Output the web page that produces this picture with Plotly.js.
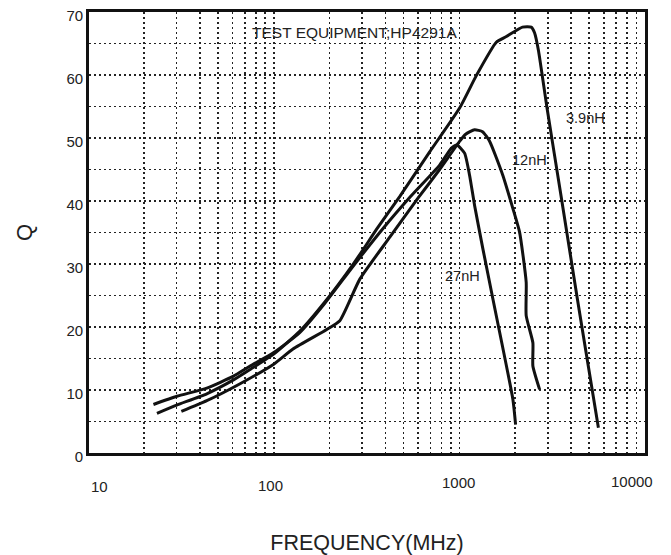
<!DOCTYPE html>
<html>
<head>
<meta charset="utf-8">
<script src="https://cdn.plot.ly/plotly-3.0.1.min.js"></script>
<style>html,body{margin:0;padding:0;background:#fff;}#chart{width:671px;height:555px;}</style>
</head>
<body>
<div id="chart"></div>
<script>
// ---- Data ----
const freq39 = [23.5, 30, 43.6, 60.7, 75, 100, 138, 189, 267, 364, 477, 692, 1005, 1234, 1581, 1791, 2188, 2438, 2541, 2667, 2965, 3548, 4325, 5297, 5610];
const q39    = [6.3, 7.6, 9.4, 11.6, 13.3, 15.7, 19.3, 24.0, 29.9, 35.8, 40.7, 47.8, 54.8, 59.9, 65.2, 66.1, 67.6, 67.6, 66.7, 63.9, 54.8, 40.4, 24.4, 8.5, 4.0];

const freq12 = [31.8, 43.6, 65.9, 100, 127, 193, 227, 291, 423, 604, 783, 1005, 1081, 1208, 1333, 1455, 1714, 1943, 2109, 2291, 2291, 2489, 2489, 2704];
const q12    = [6.6, 8.3, 11.0, 14.1, 16.5, 19.6, 21.0, 27.6, 34.3, 40.6, 45.0, 49.5, 50.6, 51.3, 51.0, 49.5, 44.1, 38.8, 35.1, 27.1, 21.8, 17.5, 13.8, 10.1];

const freq27 = [22.5, 30.1, 43.6, 60.7, 74.6, 99.6, 138, 189, 267, 392, 534, 783, 906, 970, 1067, 1135, 1208, 1339, 1517, 1943, 2009];
const q27    = [7.7, 9.0, 10.3, 12.2, 13.8, 15.9, 19.1, 23.8, 29.6, 35.8, 40.4, 45.7, 48.4, 48.9, 47.6, 44.1, 39.3, 32.4, 24.4, 8.5, 4.5];

const seriesNames = ['3.9nH', '12nH', '27nH'];
const labelFreq = [4775, 2388, 1042];
const labelQ = [53.2, 46.5, 28.1];

const xGridVals = [20,30,40,50,60,70,80,90,100,200,300,400,500,600,700,800,900,1000,2000,3000,4000,5000,6000,7000,8000,9000];
const xTickLabels = ['10', '100', '1000', '10000'];
const yGridVals = [0,5,10,15,20,25,30,35,40,45,50,55,60,65,70];
const yTickLabels = ['0','','10','','20','','30','','40','','50','','60','','70'];

const noteText = 'TEST EQUIPMENT;HP4291A';
const noteFreq = 273.5, noteQ = 66.8;

// ---- Presentation ----
const FONT = 'Liberation Sans, Arial, sans-serif';
const lineStyle = {color: '#111', width: 3, shape: 'spline', smoothing: 0.5};
const xLabelPos = [[0.018, -0.077], [0.327, -0.073], [0.664, -0.068], [0.977, -0.065]];

const traces = [
  {x: freq39, y: q39, name: seriesNames[0]},
  {x: freq12, y: q12, name: seriesNames[1]},
  {x: freq27, y: q27, name: seriesNames[2]}
].map(t => Object.assign(t, {type: 'scatter', mode: 'lines', line: lineStyle, hoverinfo: 'x+y+name'}));

const annotations = [];
seriesNames.forEach((n, i) => annotations.push({
  x: Math.log10(labelFreq[i]), y: labelQ[i], xref: 'x', yref: 'y', text: n,
  showarrow: false, font: {family: FONT, size: 14.5, color: '#222'}
}));
annotations.push({
  x: Math.log10(noteFreq), y: noteQ, xref: 'x', yref: 'y', text: noteText,
  showarrow: false, font: {family: FONT, size: 15.5, color: '#222'}
});
xTickLabels.forEach((t, i) => annotations.push({
  x: xLabelPos[i][0], y: xLabelPos[i][1], xref: 'paper', yref: 'paper', text: t,
  showarrow: false, xanchor: 'center', yanchor: 'middle',
  font: {family: FONT, size: 15, color: '#222'}
}));

const layout = {
  width: 671, height: 555,
  margin: {l: 89, r: 26, t: 12, b: 102},
  paper_bgcolor: '#fff', plot_bgcolor: '#fff',
  showlegend: false,
  font: {family: FONT, color: '#222'},
  xaxis: {
    type: 'log', range: [1.005, 4.0],
    tickmode: 'array', tickvals: xGridVals, showticklabels: false, ticks: '',
    showgrid: true, gridcolor: '#222', gridwidth: 1.6, griddash: '2px,3px',
    showline: true, linecolor: '#111', linewidth: 2.8, mirror: true,
    zeroline: false,
    title: {text: 'FREQUENCY(MHz)', font: {family: FONT, size: 21.5, color: '#222'}, standoff: 82},
    automargin: false
  },
  yaxis: {
    range: [0, 70],
    tickmode: 'array', tickvals: yGridVals, ticktext: yTickLabels, ticks: '',
    tickfont: {family: FONT, size: 15, color: '#222'},
    ticklabelshift: 4,
    showgrid: true, gridcolor: '#222', gridwidth: 1.6, griddash: '2px,3px',
    showline: true, linecolor: '#111', linewidth: 2.8, mirror: true,
    zeroline: false,
    title: {text: 'Q', font: {family: FONT, size: 22, color: '#222'}, standoff: 28},
    automargin: false
  },
  annotations: annotations
};

Plotly.newPlot('chart', traces, layout, {displayModeBar: false, staticPlot: true});
</script>
</body>
</html>
